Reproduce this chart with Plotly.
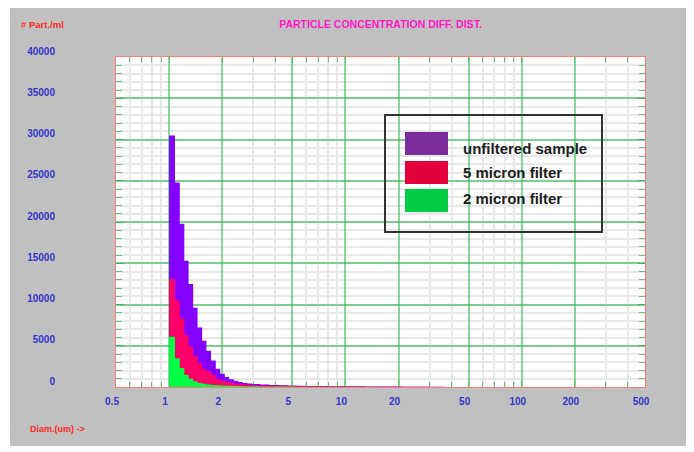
import plotly.graph_objects as go

# ---- data ----
# bin edges (diameter, um)
bin_edges = [1.0, 1.08, 1.15, 1.22, 1.29, 1.37, 1.45, 1.54, 1.63, 1.73, 1.84, 1.95,
             2.07, 2.19, 2.33, 2.47, 2.62, 2.78, 2.95, 3.3, 3.7, 4.2, 4.7, 5.3, 6.0,
             7.0, 8.0, 9.5, 11, 13, 15, 18, 21, 25, 30, 36, 43, 50]

unfiltered = [30500, 24800, 19800, 15300, 12500, 9600, 7200, 5600, 4400, 3200, 2200,
              1600, 1200, 950, 750, 600, 500, 420,
              360, 300, 250, 210, 180, 150, 130, 110, 100, 90, 80, 70, 60, 50, 40, 30,
              20, 15, 10]
micron5 = [13100, 10500, 8300, 6300, 4900, 3800, 2900, 2200, 1900, 1500, 1000, 800,
           650, 520, 430, 360, 300, 260,
           220, 190, 160, 140, 120, 100, 90, 80, 70, 60, 50, 45, 40, 30, 25, 20, 15,
           10, 5]
micron2 = [6100, 3500, 2300, 1500, 1000, 700, 500, 400, 300, 250, 200, 180, 160, 140,
           120, 110, 100, 90,
           80, 70, 60, 55, 50, 45, 40, 35, 30, 25, 20, 20, 15, 10, 10, 5, 5, 5, 0]

series_names = ["unfiltered sample", "5 micron filter", "2 micron filter"]
bar_colors = ["#8400ff", "#ff0068", "#00ff44"]
legend_colors = ["#7b2d9e", "#e2003c", "#00cc44"]

x_tickvals = [0.5, 1, 2, 5, 10, 20, 50, 100, 200, 500]
x_ticktext = ["0.5", "1", "2", "5", "10", "20", "50", "100", "200", "500"]
x_minor = [0.6, 0.7, 0.8, 0.9, 3, 4, 6, 7, 8, 9, 30, 40, 60, 70, 80, 90, 300, 400]
y_tickvals = [0, 5000, 10000, 15000, 20000, 25000, 30000, 35000, 40000]
y_ticktext = ["0", "5000", "10000", "15000", "20000", "25000", "30000", "35000", "40000"]

fig = go.Figure()
for name, vals, col in zip(series_names, [unfiltered, micron5, micron2], bar_colors):
    fig.add_trace(go.Scatter(
        x=bin_edges, y=vals + [vals[-1]], mode="lines", line_shape="hv",
        line=dict(width=0, color=col), fill="tozeroy", fillcolor=col,
        name=name, showlegend=False, hoverinfo="skip"))

tickfont = dict(family="Liberation Sans", size=10, color="#3535c8", weight="bold")
green_grid = "rgba(40,180,80,0.55)"
minor_grid = "#e8e8e8"

fig.update_xaxes(
    type="log", range=[-0.30103, 2.69897],
    tickmode="array", tickvals=x_tickvals, ticktext=x_ticktext,
    tickfont=tickfont, ticks="inside", ticklen=6, tickcolor=green_grid,
    showgrid=True, gridcolor=green_grid, gridwidth=1.5,
    minor=dict(tickmode="array", tickvals=x_minor, showgrid=True, gridcolor=minor_grid,
               ticks="inside", ticklen=5, tickcolor="rgba(40,180,80,0.7)"),
    showline=True, linecolor="#ff7a7a", linewidth=1, mirror="allticks",
    ticklabelstandoff=5, ticklabelshift=-4, zeroline=False)

fig.update_yaxes(
    range=[0, 40000], tickmode="array", tickvals=y_tickvals, ticktext=y_ticktext,
    tickfont=tickfont, ticks="inside", ticklen=8, tickcolor=green_grid,
    showgrid=True, gridcolor=green_grid, gridwidth=1.5,
    minor=dict(dtick=1000, showgrid=True, gridcolor=minor_grid,
               ticks="inside", ticklen=6, tickcolor="rgba(40,180,80,0.7)"),
    showline=True, linecolor="#ff7a7a", linewidth=1, mirror="allticks",
    ticklabelstandoff=58, ticklabelshift=-6, zeroline=False)

shapes = [
    # gray panel
    dict(type="rect", xref="paper", yref="paper", x0=-0.2004, x1=1.0775, y0=-0.1788,
         y1=1.1485, fillcolor="#c0c0c0", line=dict(width=0), layer="below"),
    # white plot area
    dict(type="rect", xref="paper", yref="paper", x0=0, x1=1, y0=0, y1=1,
         fillcolor="white", line=dict(width=0), layer="below"),
    # legend box
    dict(type="rect", xref="paper", yref="paper", x0=0.5085, x1=0.9187, y0=0.4697,
         y1=0.8242, fillcolor="rgba(0,0,0,0)", line=dict(color="#333333", width=2)),
]
annotations = []
sw_y = [(0.7030, 0.7727), (0.6152, 0.6848), (0.5303, 0.6000)]
txt_y = [0.7242, 0.6485, 0.5727]
for name, col, (y0, y1), ty in zip(series_names, legend_colors, sw_y, txt_y):
    shapes.append(dict(type="rect", xref="paper", yref="paper", x0=0.5463, x1=0.6276,
                       y0=y0, y1=y1, fillcolor=col, line=dict(width=0)))
    annotations.append(dict(xref="paper", yref="paper", x=0.652, y=ty, text=name,
                            showarrow=False, xanchor="left", yanchor="middle",
                            font=dict(family="Liberation Sans", size=15, color="#1e1e1e",
                                      weight="bold")))

annotations.append(dict(xref="paper", yref="paper", x=-0.1834, y=1.097, text="# Part./ml",
                        showarrow=False, xanchor="left", yanchor="middle",
                        font=dict(family="Liberation Sans", size=9.5, color="#ff2a2a",
                                  weight="bold")))
annotations.append(dict(xref="paper", yref="paper", x=-0.1664, y=-0.1273, text="Diam.(um) ->",
                        showarrow=False, xanchor="left", yanchor="middle",
                        font=dict(family="Liberation Sans", size=9, color="#ff2a2a",
                                  weight="bold")))

fig.update_layout(
    width=686, height=444,
    margin=dict(l=108, r=49, t=49, b=65, autoexpand=False),
    paper_bgcolor="white", plot_bgcolor="white",
    title=dict(text="PARTICLE CONCENTRATION DIFF. DIST.", x=0.5, xref="paper",
               xanchor="center", y=1 - 16 / 444, yanchor="middle",
               font=dict(family="Liberation Sans", size=10.5, color="#ff18c0",
                         weight="bold")),
    shapes=shapes, annotations=annotations, showlegend=False,
)

fig.write_html("out.html")
